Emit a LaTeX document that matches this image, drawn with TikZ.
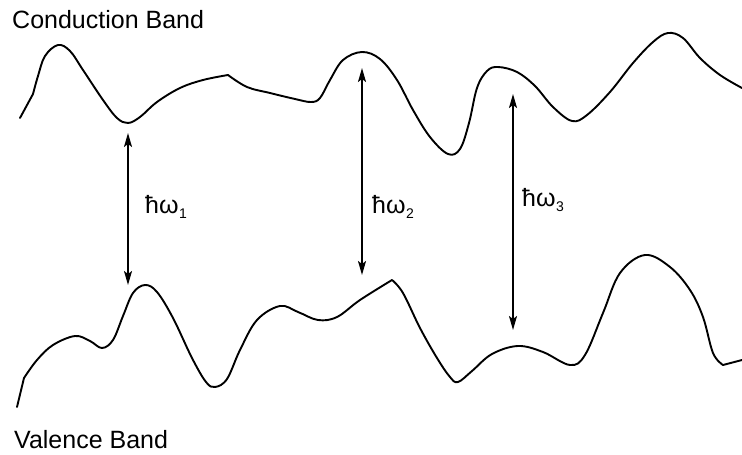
\documentclass[tikz,border=0pt]{standalone}
\usepackage{fontspec}
\setmainfont{Liberation Sans}
\usetikzlibrary{arrows.meta}
\newcommand\hwlabel[1]{ħω\kern0.5pt\raisebox{-5pt}{\fontsize{14}{14}\selectfont #1}}
\begin{document}
\begin{tikzpicture}[x=1pt,y=-1pt,
  band/.style={line width=1.9pt, line join=round, line cap=round},
  gap/.style={line width=1.7pt, {Stealth[length=14pt,width=8pt,inset=3pt]}-{Stealth[length=14pt,width=8pt,inset=3pt]}},
  lbl/.style={font=\fontsize{25}{30}\selectfont, anchor=base west, inner sep=0pt}]
\useasboundingbox (0,0) rectangle (742,455);

% Conduction band
\draw[band] (20,118) -- (33,94)
  -- plot[smooth, tension=0.6] coordinates {(33,94) (38,76) (45,56) (58,45) (70,51) (83,70) (103,100) (117,118) (128,123) (140,117) (157,102) (180,88) (203,80) (228,75)}
  -- plot[smooth, tension=0.6] coordinates {(228,75) (247,87) (270,93) (295,99) (311,102) (320,98) (330,80) (343,60) (362,52) (380,59) (397,80) (413,110) (430,137) (448,154) (460,149) (469,123) (477,88) (487,71) (498,67) (517,72) (535,86) (553,107) (572,121) (587,115) (610,92) (633,63) (653,42) (668,33) (683,38) (700,58) (720,75) (742,88)};

% Valence band
\draw[band] (17,407) -- (24,378)
  -- plot[smooth, tension=0.6] coordinates {(24,378) (37,360) (53,345) (75,336) (90,341) (102,348) (113,340) (123,316) (133,293) (145,285) (157,292) (173,318) (192,358) (206,382) (215,387) (227,379) (240,350) (257,320) (280,306) (298,312) (318,320) (337,317) (360,300) (392,280)}
  -- plot[smooth, tension=0.6] coordinates {(392,280) (403,293) (420,328) (437,358) (450,377) (458,382) (472,371) (492,354) (518,346) (543,352) (570,365) (585,355) (603,313) (620,273) (645,255) (670,267) (690,290) (703,317) (713,353) (723,365)}
  -- (742,360);

% Gap arrows
\coordinate (a1t) at (128,133);
\coordinate (a1b) at (128,285);
\coordinate (a2t) at (362,68);
\coordinate (a2b) at (362,275);
\coordinate (a3t) at (513,94);
\coordinate (a3b) at (513,330);
\draw[gap] (a1t) -- (a1b);
\draw[gap] (a2t) -- (a2b);
\draw[gap] (a3t) -- (a3b);

% Labels
\node[lbl] (cb) at (12,28) {Conduction Band};
\node[lbl] (vb) at (14,448) {Valence Band};
\node[lbl] (w1) at (145,213) {\hwlabel{1}};
\node[lbl] (w2) at (372,213) {\hwlabel{2}};
\node[lbl] (w3) at (522,206) {\hwlabel{3}};
\end{tikzpicture}
\end{document}
